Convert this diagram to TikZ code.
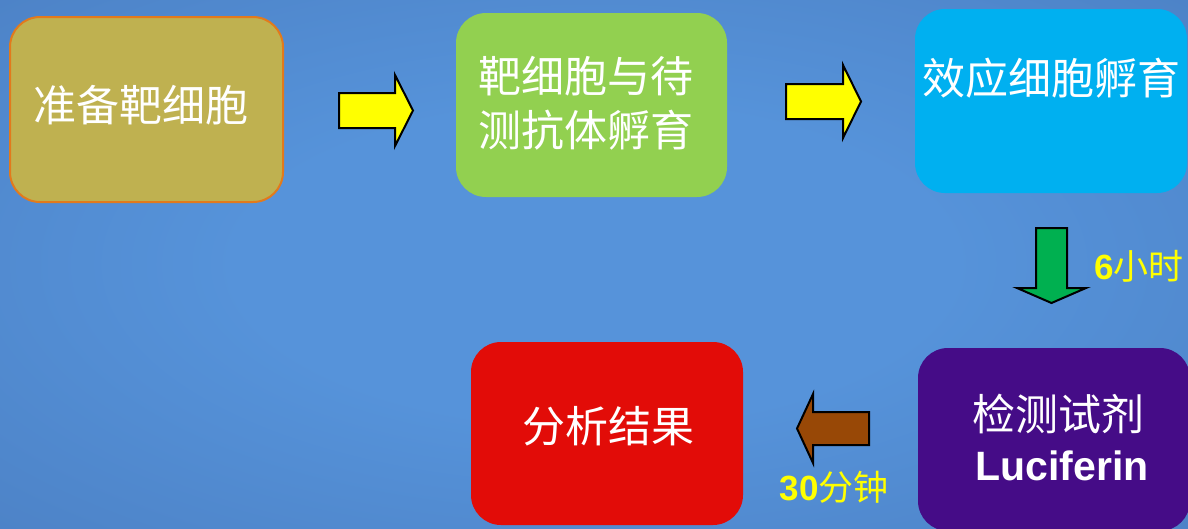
\documentclass[tikz,border=0pt]{standalone}
\usepackage{fontspec}
\setmainfont{Liberation Sans}
\newfontfamily\cjk{Noto Sans CJK SC}
\definecolor{bgin}{HTML}{5693DA}
\definecolor{bgout}{HTML}{3E68A8}
\definecolor{olivebox}{HTML}{BFB150}
\definecolor{orangeedge}{HTML}{E27A1C}
\definecolor{greenbox}{HTML}{92D050}
\definecolor{cyanbox}{HTML}{00B0F0}
\definecolor{redbox}{HTML}{E20C08}
\definecolor{purplebox}{HTML}{450C87}
\definecolor{arrowyellow}{HTML}{FFFF00}
\definecolor{arrowgreen}{HTML}{00B050}
\definecolor{arrowbrown}{HTML}{984806}
\pgfdeclareradialshading{bgshade}{\pgfpoint{0bp}{0bp}}{color(0bp)=(bgin); color(15bp)=(bgin); color(70bp)=(bgout)}
\begin{document}
\begin{tikzpicture}[x=1pt,y=-1pt,
  box/.style={rectangle, rounded corners=30pt, inner sep=0pt, draw=none},
  boxtext/.style={text=white, font=\cjk\fontsize{43}{54}\selectfont, align=center, inner sep=0pt},
  blockarrow/.style={draw=black, line width=2pt, line join=miter},
  timelabel/.style={text=arrowyellow, inner sep=0pt}]
\useasboundingbox (0,0) rectangle (1188,528);
\clip (0,0) rectangle (1188,528);
\shade[shading=bgshade] (0,0) rectangle (1188,528);

% boxes
\node[box, fill=olivebox, draw=orangeedge, line width=2pt, minimum width=273pt, minimum height=185pt] (b1) at (146.5,109.5) {};
\node[box, fill=greenbox, minimum width=271pt, minimum height=184pt] (b2) at (591.5,105) {};
\node[box, fill=cyanbox, minimum width=272pt, minimum height=184pt] (b3) at (1051,101) {};
\node[box, fill=redbox, minimum width=272pt, minimum height=183pt] (b4) at (607,433.5) {};
\node[box, fill=purplebox, minimum width=272pt, minimum height=183pt] (b5) at (1054,439.5) {};

% texts
\node[boxtext] (t1) at (141,105) {准备靶细胞};
\node[boxtext] (t2) at (586,103) {靶细胞与待\\测抗体孵育};
\node[boxtext] (t3) at (1051,78) {效应细胞孵育};
\node[boxtext] (t4) at (608,426) {分析结果};
\node[boxtext] (t5a) at (1058,414) {检测试剂};
\node[text=white, font=\bfseries\fontsize{41}{46}\selectfont, inner sep=0pt, anchor=base] (t5b) at (1062,480) {Luciferin};

% block arrows
\draw[blockarrow, fill=arrowyellow] (339,93) -- (395,93) -- (395,75) -- (413,110.5) -- (395,146) -- (395,128) -- (339,128) -- cycle;
\draw[blockarrow, fill=arrowyellow] (786,84) -- (843,84) -- (843,65) -- (861,101.5) -- (843,138) -- (843,119) -- (786,119) -- cycle;
\draw[blockarrow, fill=arrowgreen] (1036,228) -- (1067,228) -- (1067,288) -- (1086,288) -- (1051.5,303) -- (1017,288) -- (1036,288) -- cycle;
\draw[blockarrow, fill=arrowbrown] (869,412) -- (813,412) -- (813,394) -- (797,428.5) -- (813,463) -- (813,445) -- (869,445) -- cycle;

% labels
\node[timelabel] (l1) at (1139,266) {\fontsize{35}{40}\selectfont\bfseries 6\cjk\mdseries 小时};
\node[timelabel] (l2) at (834,487) {\fontsize{35}{40}\selectfont\bfseries 30\cjk\mdseries 分钟};
\end{tikzpicture}
\end{document}
